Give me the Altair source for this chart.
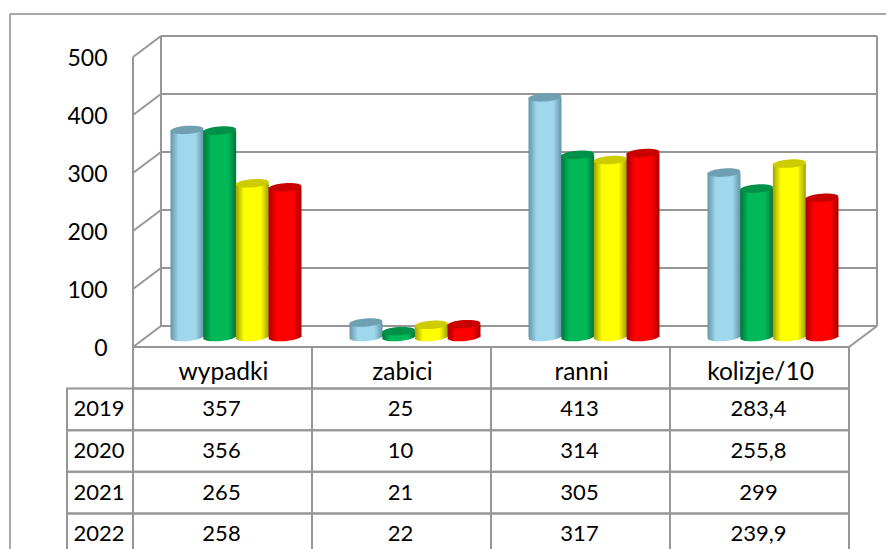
import altair as alt
import pandas as pd

categories = ["wypadki", "zabici", "ranni", "kolizje/10"]
years = ["2019", "2020", "2021", "2022"]
v2019 = [357, 25, 413, 283.4]
v2020 = [356, 10, 314, 255.8]
v2021 = [265, 21, 305, 299]
v2022 = [258, 22, 317, 239.9]
series = [v2019, v2020, v2021, v2022]
ticks = [0, 100, 200, 300, 400, 500]
depth = 36.3  # wall depth expressed in axis units

# (edge, light, cap)
palette = {
    "2019": ("#6594a8", "#9fd8ec", "#6f9fb2"),
    "2020": ("#00743a", "#00b858", "#009149"),
    "2021": ("#a0a000", "#ffff00", "#cccc00"),
    "2022": ("#a80000", "#ff0000", "#c80000"),
}

GRID = "#969696"
FRAME = "#a8a8a8"
FONT = "Lato"

def ellipse_path(ry=0.25, tilt=0.07):
    k = 0.5523
    pts = [(-1, 0), (-1, -ry * k), (-k, -ry), (0, -ry), (k, -ry), (1, -ry * k), (1, 0),
           (1, ry * k), (k, ry), (0, ry), (-k, ry), (-1, ry * k), (-1, 0)]
    p = [(x, y - tilt * x) for x, y in pts]
    s = f"M{p[0][0]:.3f} {p[0][1]:.3f}"
    for i in range(1, len(p), 3):
        s += "C" + " ".join(f"{a:.3f} {b:.3f}" for a, b in p[i:i + 3])
    return s + "Z"

ELLIPSE = ellipse_path()

rows = []
for y, vals in zip(years, series):
    for c, v in zip(categories, vals):
        rows.append({"cat": c, "year": y, "value": v, "label": str(v).replace(".", ",")})
df = pd.DataFrame(rows)
tick_df = pd.DataFrame({"tick": ticks})
tick_df["back"] = tick_df["tick"] + depth
cat_df = pd.DataFrame({"cat": categories})
year_df = pd.DataFrame({"year": years})

front_y = alt.Scale(domain=[0, 500], range=[339, 49])
bar_y = alt.Scale(domain=[0, 500], range=[329, 39])
bar_x = alt.Scale(type="band", domain=categories, range=[138.5, 854.5], paddingInner=0.27, paddingOuter=0.135)
off_x = alt.Scale(type="band", domain=years, paddingInner=0, paddingOuter=0)
table_x = alt.Scale(type="band", domain=categories, range=[125, 841], paddingInner=0, paddingOuter=0)
row_domain = ["head"] + years
table_y = alt.Scale(type="band", domain=row_domain, range=[339, 547], paddingInner=0, paddingOuter=0)

layers = []

# outer frame
layers.append(alt.Chart(pd.DataFrame({"a": [0]})).mark_rule(color=FRAME, strokeWidth=2).encode(
    x=alt.value(2), x2=alt.value(886), y=alt.value(6)))
layers.append(alt.Chart(pd.DataFrame({"a": [0]})).mark_rule(color=FRAME, strokeWidth=2).encode(
    x=alt.value(2), y=alt.value(6), y2=alt.value(541)))

# back wall gridlines
layers.append(alt.Chart(tick_df).mark_rule(color=GRID, strokeWidth=2).encode(
    x=alt.value(153), x2=alt.value(869),
    y=alt.Y("back:Q", scale=front_y, axis=None)))
# diagonals on the side wall
layers.append(alt.Chart(tick_df).mark_rule(color=GRID, strokeWidth=2).encode(
    x=alt.value(125), x2=alt.value(153),
    y=alt.Y("tick:Q", scale=front_y, axis=None), y2="back:Q"))
# verticals and floor
zero_df = tick_df[tick_df.tick == 0]
for px in (125, 153, 869):
    src = tick_df.iloc[[0]].assign(lo=0 if px == 125 else depth, hi=500 if px == 125 else 500 + depth)
    layers.append(alt.Chart(src).mark_rule(color=GRID, strokeWidth=2).encode(
        x=alt.value(px),
        y=alt.Y("lo:Q", scale=front_y, axis=None), y2="hi:Q"))
layers.append(alt.Chart(zero_df).mark_rule(color=GRID, strokeWidth=2).encode(
    x=alt.value(841), x2=alt.value(869),
    y=alt.Y("tick:Q", scale=front_y, axis=None), y2="back:Q"))

# y axis
layers.append(alt.Chart(tick_df).mark_rule(opacity=0).encode(
    x=alt.value(125),
    y=alt.Y("tick:Q", scale=front_y, axis=alt.Axis(
        orient="left", values=ticks, title=None, domain=False, ticks=False, grid=False,
        offset=-99, labelPadding=0, labelOffset=1.5, labelFont=FONT, labelFontSize=23, labelColor="black"))))

# cylinders
def gradient(year):
    edge, light, _ = palette[year]
    return alt.Gradient(gradient="linear", x1=0, x2=1, y1=0, y2=0, stops=[
        alt.GradientStop(offset=0, color=edge),
        alt.GradientStop(offset=0.25, color=light),
        alt.GradientStop(offset=0.75, color=light),
        alt.GradientStop(offset=1, color=edge),
    ])

for yr in years:
    sub = df[df.year == yr]
    pos = dict(
        x=alt.X("cat:N", scale=bar_x, axis=None),
        xOffset=alt.XOffset("year:N", scale=off_x),
    )
    layers.append(alt.Chart(sub).mark_point(shape=ELLIPSE, filled=True, size=1089, opacity=1,
                                            color=gradient(yr)).encode(
        y=alt.Y("zero:Q", scale=bar_y, axis=None), **pos).transform_calculate(zero="0"))
    layers.append(alt.Chart(sub).mark_bar(size=33, color=gradient(yr)).encode(
        y=alt.Y("value:Q", scale=bar_y, axis=None), **pos))
    layers.append(alt.Chart(sub).mark_point(shape=ELLIPSE, filled=True, size=1089, opacity=1,
                                            color=palette[yr][2]).encode(
        y=alt.Y("value:Q", scale=bar_y, axis=None), **pos))

# table cells
layers.append(alt.Chart(df).mark_rect(fill="white", fillOpacity=0, stroke=GRID, strokeWidth=2).encode(
    x=alt.X("cat:N", scale=table_x, axis=None),
    y=alt.Y("year:N", scale=table_y, axis=None)))
layers.append(alt.Chart(cat_df).transform_calculate(row="'head'").mark_rect(
    fill="white", fillOpacity=0, stroke=GRID, strokeWidth=2).encode(
    x=alt.X("cat:N", scale=table_x, axis=None),
    y=alt.Y("row:N", scale=table_y, axis=None)))
layers.append(alt.Chart(year_df).mark_rect(fill="white", fillOpacity=0, stroke=GRID, strokeWidth=2).encode(
    x=alt.value(59), x2=alt.value(125),
    y=alt.Y("year:N", scale=table_y, axis=None)))

# table text
layers.append(alt.Chart(df).mark_text(font=FONT, fontSize=22, color="black", baseline="middle", dy=0, dx=-1).encode(
    x=alt.X("cat:N", scale=table_x, axis=None),
    y=alt.Y("year:N", scale=table_y, axis=None),
    text="label:N"))
layers.append(alt.Chart(cat_df).transform_calculate(row="'head'").mark_text(
    font=FONT, fontSize=24.5, color="black", baseline="middle", dy=5, dx=1).encode(
    x=alt.X("cat:N", scale=table_x, axis=None),
    y=alt.Y("row:N", scale=table_y, axis=None),
    text="cat:N"))
layers.append(alt.Chart(year_df).mark_text(font=FONT, fontSize=22, color="black", baseline="middle", dy=0).encode(
    x=alt.value(91),
    y=alt.Y("year:N", scale=table_y, axis=None),
    text="year:N"))

chart = alt.layer(*layers).resolve_scale(x="independent", y="independent").properties(
    width=878, height=541, padding=0, autosize=alt.AutoSizeParams(type="none"), background="white"
).configure_view(stroke=None)

chart.save("out.html", embed_options={"renderer": "svg", "actions": False})
